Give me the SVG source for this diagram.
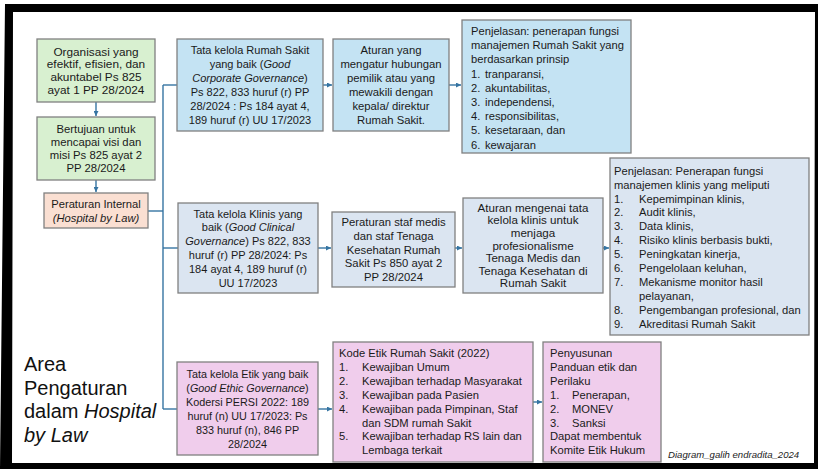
<svg xmlns="http://www.w3.org/2000/svg" width="818" height="469" viewBox="0 0 818 469">
<defs>
<style>
.t{font-family:"Liberation Sans",Arial,sans-serif;font-size:11px;fill:#1a1a1a}
.c{text-anchor:middle}
.i{font-style:italic}
.box{stroke:#808080;stroke-width:1.3}
.gr{fill:#d8f0d0}
.pe{fill:#fadfd2}
.bl{fill:#c4e3f3}
.kl{fill:#dbe5f1}
.et{fill:#f0cdec}
.conn{stroke:#3574a2;stroke-width:1.4;fill:none}
.arr{marker-end:url(#ah)}
.title{font-family:"Liberation Sans",Arial,sans-serif;font-size:20px;fill:#111}
</style>
<marker id="ah" viewBox="0 0 6 6" refX="6" refY="3" markerWidth="5" markerHeight="5" markerUnits="userSpaceOnUse" orient="auto">
<path d="M0,0 L6,3 L0,6 z" fill="#3574a2"/>
</marker>
</defs>
<rect x="0" y="0" width="818" height="469" fill="#fff"/>
<path d="M5,4 L818,4 L818,469 L0,469 Z M13,12 L815,12 L814,463 L12,463 Z" fill="#000" fill-rule="evenodd"/>

<g id="connectors">
<path class="conn arr" d="M96,102 V116"/>
<path class="conn arr" d="M96,180 V192"/>
<path class="conn" d="M148,211 H163"/>
<path class="conn" d="M163,85 V409"/>
<path class="conn" d="M163,85 H177"/>
<path class="conn" d="M163,248 H178"/>
<path class="conn" d="M163,409 H177"/>
<path class="conn arr" d="M323,85 H332"/>
<path class="conn arr" d="M449,85 H461"/>
<path class="conn arr" d="M318,248 H331"/>
<path class="conn arr" d="M455,248 H462"/>
<path class="conn arr" d="M603,248 H609"/>
<path class="conn arr" d="M318,409 H332"/>
<path class="conn arr" d="M533,402 H542"/>
</g>

<g id="n-organisasi">
<rect class="box gr" x="37" y="39" width="118" height="63"/>
<text class="t c" x="96" style="font-size:11.8px"><tspan x="96" y="55.5">Organisasi yang</tspan><tspan x="96" y="68.2">efektif, efisien, dan</tspan><tspan x="96" y="80.8">akuntabel Ps 825</tspan><tspan x="96" y="93.5">ayat 1 PP 28/2024</tspan></text>
</g>
<g id="n-bertujuan">
<rect class="box gr" x="37" y="117" width="118" height="63"/>
<text class="t c" style="font-size:11.3px"><tspan x="96" y="133">Bertujuan untuk</tspan><tspan x="96" y="146">mencapai visi dan</tspan><tspan x="96" y="159">misi Ps 825 ayat 2</tspan><tspan x="96" y="172">PP 28/2024</tspan></text>
</g>
<g id="n-peraturan-internal">
<rect class="box pe" x="44" y="193" width="104" height="35"/>
<text class="t c" style="font-size:11.2px"><tspan x="96" y="207.5">Peraturan Internal</tspan><tspan x="96" y="221.5" class="i">(Hospital by Law)</tspan></text>
</g>

<g id="n-gcg">
<rect class="box bl" x="177" y="39" width="146" height="92"/>
<text class="t c"><tspan x="250" y="54">Tata kelola Rumah Sakit</tspan><tspan x="250" y="68">yang baik (<tspan class="i">Good</tspan></tspan><tspan x="250" y="82"><tspan class="i">Corporate Governance</tspan>)</tspan><tspan x="250" y="96">Ps 822, 833 huruf (r) PP</tspan><tspan x="250" y="110">28/2024 : Ps 184 ayat 4,</tspan><tspan x="250" y="124">189 huruf (r) UU 17/2023</tspan></text>
</g>
<g id="n-aturan-hubungan">
<rect class="box bl" x="333" y="39" width="116" height="92"/>
<text class="t c" style="font-size:11.3px"><tspan x="391" y="54">Aturan yang</tspan><tspan x="391" y="68">mengatur hubungan</tspan><tspan x="391" y="82">pemilik atau yang</tspan><tspan x="391" y="96">mewakili dengan</tspan><tspan x="391" y="110">kepala/ direktur</tspan><tspan x="391" y="124">Rumah Sakit.</tspan></text>
</g>
<g id="n-penjelasan-rs">
<rect class="box bl" x="462" y="20" width="169" height="133"/>
<text class="t" style="font-size:11.2px"><tspan x="471" y="35">Penjelasan: penerapan fungsi</tspan><tspan x="471" y="49.2">manajemen Rumah Sakit yang</tspan><tspan x="471" y="63.4">berdasarkan prinsip</tspan></text>
<text class="t" style="font-size:11.2px"><tspan x="471" y="77.6">1.</tspan><tspan x="471" y="91.8">2.</tspan><tspan x="471" y="106">3.</tspan><tspan x="471" y="120.2">4.</tspan><tspan x="471" y="134.4">5.</tspan><tspan x="471" y="148.6">6.</tspan></text>
<text class="t" style="font-size:11.2px"><tspan x="485" y="77.6">tranparansi,</tspan><tspan x="485" y="91.8">akuntabilitas,</tspan><tspan x="485" y="106">independensi,</tspan><tspan x="485" y="120.2">responsibilitas,</tspan><tspan x="485" y="134.4">kesetaraan, dan</tspan><tspan x="485" y="148.6">kewajaran</tspan></text>
</g>

<g id="n-klinis">
<rect class="box kl" x="178" y="203" width="140" height="90"/>
<text class="t c"><tspan x="248" y="217.5">Tata kelola Klinis yang</tspan><tspan x="248" y="231.3">baik (<tspan class="i">Good Clinical</tspan></tspan><tspan x="248" y="245.1"><tspan class="i">Governance</tspan>) Ps 822, 833</tspan><tspan x="248" y="258.9">huruf (r) PP 28/2024: Ps</tspan><tspan x="248" y="272.7">184 ayat 4, 189 huruf (r)</tspan><tspan x="248" y="286.5">UU 17/2023</tspan></text>
</g>
<g id="n-staf-medis">
<rect class="box kl" x="332" y="212" width="123" height="75"/>
<text class="t c" style="font-size:11.3px"><tspan x="393.5" y="225.9">Peraturan staf medis</tspan><tspan x="393.5" y="239.7">dan staf Tenaga</tspan><tspan x="393.5" y="253.5">Kesehatan Rumah</tspan><tspan x="393.5" y="267.3">Sakit Ps 850 ayat 2</tspan><tspan x="393.5" y="281.1">PP 28/2024</tspan></text>
</g>
<g id="n-aturan-klinis">
<rect class="box kl" x="463" y="198" width="140" height="95"/>
<text class="t c" style="font-size:11.6px"><tspan x="533" y="211.7">Aturan mengenai tata</tspan><tspan x="533" y="224.3">kelola klinis untuk</tspan><tspan x="533" y="236.9">menjaga</tspan><tspan x="533" y="249.5">profesionalisme</tspan><tspan x="533" y="262.1">Tenaga Medis dan</tspan><tspan x="533" y="274.7">Tenaga Kesehatan di</tspan><tspan x="533" y="287.3">Rumah Sakit</tspan></text>
</g>
<g id="n-penjelasan-klinis">
<rect class="box kl" x="610" y="158" width="199" height="177"/>
<text class="t" style="font-size:11.2px"><tspan x="614" y="174.7">Penjelasan: Penerapan fungsi</tspan><tspan x="614" y="188.6">manajemen klinis yang meliputi</tspan></text>
<text class="t" style="font-size:11.2px"><tspan x="614" y="202.5">1.</tspan><tspan x="614" y="216.4">2.</tspan><tspan x="614" y="230.3">3.</tspan><tspan x="614" y="244.2">4.</tspan><tspan x="614" y="258.1">5.</tspan><tspan x="614" y="272">6.</tspan><tspan x="614" y="285.9">7.</tspan><tspan x="614" y="313.7">8.</tspan><tspan x="614" y="327.6">9.</tspan></text>
<text class="t" style="font-size:11.2px"><tspan x="639" y="202.5">Kepemimpinan klinis,</tspan><tspan x="639" y="216.4">Audit klinis,</tspan><tspan x="639" y="230.3">Data klinis,</tspan><tspan x="639" y="244.2">Risiko klinis berbasis bukti,</tspan><tspan x="639" y="258.1">Peningkatan kinerja,</tspan><tspan x="639" y="272">Pengelolaan keluhan,</tspan><tspan x="639" y="285.9">Mekanisme monitor hasil</tspan><tspan x="639" y="299.8">pelayanan,</tspan><tspan x="639" y="313.7">Pengembangan profesional, dan</tspan><tspan x="639" y="327.6">Akreditasi Rumah Sakit</tspan></text>
</g>

<g id="n-etik">
<rect class="box et" x="177" y="362" width="141" height="93"/>
<text class="t c" style="font-size:10.8px"><tspan x="247.5" y="377.5">Tata kelola Etik yang baik</tspan><tspan x="247.5" y="391.5">(<tspan class="i">Good Ethic Governance</tspan>)</tspan><tspan x="247.5" y="405.5">Kodersi PERSI 2022: 189</tspan><tspan x="247.5" y="419.5">huruf (n) UU 17/2023: Ps</tspan><tspan x="247.5" y="433.5">833 huruf (n), 846 PP</tspan><tspan x="247.5" y="447.5">28/2024</tspan></text>
</g>
<g id="n-kode-etik">
<rect class="box et" x="333" y="342" width="200" height="120"/>
<text class="t" style="font-size:11.2px"><tspan x="339" y="357">Kode Etik Rumah Sakit (2022)</tspan></text>
<text class="t" style="font-size:11.2px"><tspan x="339" y="370.9">1.</tspan><tspan x="339" y="384.8">2.</tspan><tspan x="339" y="398.7">3.</tspan><tspan x="339" y="412.6">4.</tspan><tspan x="339" y="440.4">5.</tspan></text>
<text class="t" style="font-size:11.2px"><tspan x="362" y="370.9">Kewajiban Umum</tspan><tspan x="362" y="384.8">Kewajiban terhadap Masyarakat</tspan><tspan x="362" y="398.7">Kewajiban pada Pasien</tspan><tspan x="362" y="412.6">Kewajiban pada Pimpinan, Staf</tspan><tspan x="362" y="426.5">dan SDM rumah Sakit</tspan><tspan x="362" y="440.4">Kewajiban terhadap RS lain dan</tspan><tspan x="362" y="454.3">Lembaga terkait</tspan></text>
</g>
<g id="n-penyusunan">
<rect class="box et" x="543" y="342" width="118" height="120"/>
<text class="t" style="font-size:11.2px"><tspan x="550" y="357">Penyusunan</tspan><tspan x="550" y="370.9">Panduan etik dan</tspan><tspan x="550" y="384.8">Perilaku</tspan></text>
<text class="t" style="font-size:11.2px"><tspan x="550" y="398.7">1.</tspan><tspan x="550" y="412.6">2.</tspan><tspan x="550" y="426.5">3.</tspan></text>
<text class="t" style="font-size:11.2px"><tspan x="572" y="398.7">Penerapan,</tspan><tspan x="572" y="412.6">MONEV</tspan><tspan x="572" y="426.5">Sanksi</tspan></text>
<text class="t" style="font-size:11.2px"><tspan x="550" y="440.4">Dapat membentuk</tspan><tspan x="550" y="454.3">Komite Etik Hukum</tspan></text>
</g>

<g id="title">
<text class="title"><tspan x="24" y="371">Area</tspan><tspan x="24" y="394.5">Pengaturan</tspan><tspan x="24" y="418">dalam <tspan font-style="italic">Hospital</tspan></tspan><tspan x="24" y="441.5" font-style="italic">by Law</tspan></text>
</g>
<text x="668" y="458" style="font-family:'Liberation Sans',Arial,sans-serif;font-size:9.6px;font-style:italic;fill:#222">Diagram_galih endradita_2024</text>
</svg>
